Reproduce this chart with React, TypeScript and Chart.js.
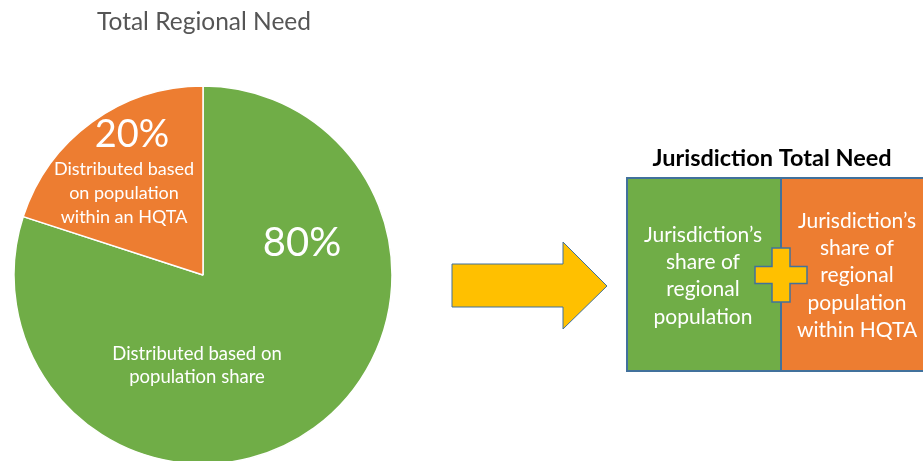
import React, { useEffect, useRef } from "react";
import { Chart, registerables } from "chart.js";

Chart.register(...registerables);

// ---- data ----
const sliceLabels = [
  "Distributed based on population share",
  "Distributed based on population within an HQTA",
];
const sliceValues = [80, 20];
const sliceColors = ["#70AD47", "#ED7D31"];
const pieTitle = "Total Regional Need";
const boxTitle = "Jurisdiction Total Need";
const greenSliceLines = ["Distributed based on", "population share"];
const orangeSliceLines = ["Distributed based", "on population", "within an HQTA"];
const leftBoxLines = ["Jurisdiction\u2019s", "share of", "regional", "population"];
const rightBoxLines = ["Jurisdiction\u2019s", "share of", "regional", "population", "within HQTA"];

const FONT = "Lato, 'Open Sans', sans-serif";
const YELLOW = "#FFC000";
const OUTLINE = "#41719C";

const overlayPlugin = {
  id: "overlay",
  afterDraw(chart: any) {
    const ctx: CanvasRenderingContext2D = chart.ctx;
    const meta = chart.getDatasetMeta(0);
    const arc: any = meta.data[0];
    const cx = arc.x;
    const cy = arc.y;
    ctx.save();
    ctx.textAlign = "center";
    ctx.textBaseline = "middle";

    // pie title
    ctx.fillStyle = "#555555";
    ctx.font = `24.5px ${FONT}`;
    ctx.fillText(pieTitle, cx + 1, 22);

    // slice labels
    ctx.fillStyle = "#FFFFFF";
    ctx.font = `40px ${FONT}`;
    ctx.fillText(`${sliceValues[0]}%`, cx + 99, cy - 32);
    ctx.font = `18.5px ${FONT}`;
    greenSliceLines.forEach((l, i) => ctx.fillText(l, cx - 6, cy + 79 + i * 23));
    ctx.font = `38px ${FONT}`;
    ctx.fillText(`${sliceValues[1]}%`, cx - 71, cy - 140);
    ctx.font = `18px ${FONT}`;
    orangeSliceLines.forEach((l, i) => ctx.fillText(l, cx - 79, cy - 106 + i * 24));

    // arrow
    ctx.beginPath();
    const arrow = [
      [452, 264], [563, 264], [563, 242], [607, 286],
      [563, 329], [563, 307], [452, 307],
    ];
    arrow.forEach(([x, y], i) => (i ? ctx.lineTo(x, y) : ctx.moveTo(x, y)));
    ctx.closePath();
    ctx.fillStyle = YELLOW;
    ctx.fill();
    ctx.lineWidth = 1;
    ctx.strokeStyle = OUTLINE;
    ctx.stroke();

    // boxes
    const top = 178, bottom = 371, left = 627, mid = 781, right = 935;
    ctx.fillStyle = sliceColors[0];
    ctx.fillRect(left, top, mid - left, bottom - top);
    ctx.fillStyle = sliceColors[1];
    ctx.fillRect(mid, top, right - mid, bottom - top);
    ctx.lineWidth = 2;
    ctx.strokeStyle = OUTLINE;
    ctx.strokeRect(left, top, mid - left, bottom - top);
    ctx.strokeRect(mid, top, right - mid, bottom - top);

    // box title
    ctx.fillStyle = "#000000";
    ctx.font = `bold 23.5px ${FONT}`;
    ctx.fillText(boxTitle, 772, 158);

    // box texts
    ctx.fillStyle = "#FFFFFF";
    ctx.font = `21px ${FONT}`;
    leftBoxLines.forEach((l, i) => ctx.fillText(l, 703, 235 + i * 27.3));
    rightBoxLines.forEach((l, i) => ctx.fillText(l, 857, 221 + i * 27.3));

    // plus sign
    const px = 781, py = 275, hl = 26, ht = 8.5, vl = 27, vt = 9;
    const plus = [
      [px - vt, py - vl], [px + vt, py - vl], [px + vt, py - ht], [px + hl, py - ht],
      [px + hl, py + ht], [px + vt, py + ht], [px + vt, py + vl], [px - vt, py + vl],
      [px - vt, py + ht], [px - hl, py + ht], [px - hl, py - ht], [px - vt, py - ht],
    ];
    ctx.beginPath();
    plus.forEach(([x, y], i) => (i ? ctx.lineTo(x, y) : ctx.moveTo(x, y)));
    ctx.closePath();
    ctx.fillStyle = YELLOW;
    ctx.fill();
    ctx.lineWidth = 1.5;
    ctx.strokeStyle = OUTLINE;
    ctx.stroke();

    ctx.restore();
  },
};

export default function App() {
  const canvasRef = useRef<HTMLCanvasElement | null>(null);

  useEffect(() => {
    if (!canvasRef.current) return;
    const chart = new Chart(canvasRef.current, {
      type: "pie",
      data: {
        labels: sliceLabels,
        datasets: [
          {
            data: sliceValues,
            backgroundColor: sliceColors,
            borderColor: "#FFFFFF",
            borderWidth: 1.5,
            radius: 189,
            clip: false,
          } as any,
        ],
      },
      options: {
        responsive: false,
        animation: false,
        events: [],
        layout: { padding: { left: 17, right: 534, top: 89, bottom: 0 } },
        plugins: {
          legend: { display: false },
          tooltip: { enabled: false },
          title: { display: false },
        },
      },
      plugins: [overlayPlugin],
    });
    return () => chart.destroy();
  }, []);

  return (
    <div
      style={{
        position: "absolute",
        left: 0,
        top: 0,
        width: 923,
        height: 461,
        overflow: "hidden",
        background: "#FFFFFF",
      }}
    >
      <canvas ref={canvasRef} width={923} height={461} style={{ width: 923, height: 461 }} />
    </div>
  );
}
